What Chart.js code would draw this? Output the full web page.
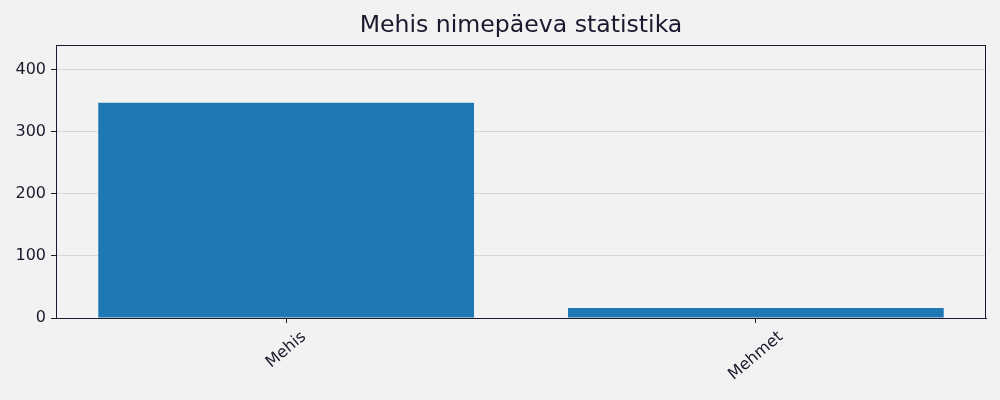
<!DOCTYPE html>
<html>
<head>
<meta charset="utf-8">
<script src="https://cdn.jsdelivr.net/npm/chart.js@4/dist/chart.umd.min.js"></script>
<style>
  html, body { margin: 0; padding: 0; background: #f2f2f2; }
  #wrap { width: 1000px; height: 400px; }
</style>
</head>
<body>
<div id="wrap"><canvas id="nameChart"></canvas></div>
<script>
const names = ["Mehis", "Mehmet"];
const counts = [347, 16];
const yTicks = [0, 100, 200, 300, 400];
const chartTitle = "Mehis nimepäeva statistika";

const textColor = "#1a1a2e";
const fontFamily = "'DejaVu Sans', sans-serif";

// frame, axes-centred title and centred rotated x labels (matplotlib style)
const framePlugin = {
  id: "frame",
  afterDraw(chart) {
    const { ctx, chartArea } = chart;
    const xScale = chart.scales.x;
    ctx.save();
    ctx.strokeStyle = textColor;
    ctx.lineWidth = 1;
    ctx.strokeRect(chartArea.left + 0.5, chartArea.top + 0.5,
      chartArea.right - chartArea.left - 1, chartArea.bottom - chartArea.top);

    ctx.fillStyle = textColor;
    ctx.font = "23.6px " + fontFamily;
    ctx.textAlign = "center";
    ctx.textBaseline = "alphabetic";
    ctx.fillText(chartTitle, (chartArea.left + chartArea.right) / 2, 32);

    ctx.font = "16px " + fontFamily;
    ctx.textBaseline = "middle";
    const ang = (40 * Math.PI) / 180;
    names.forEach((label, i) => {
      const x = xScale.getPixelForValue(i);
      const w = ctx.measureText(label).width;
      const h = 18;
      const boxH = w * Math.sin(ang) + h * Math.cos(ang);
      const top = chartArea.bottom + 10;
      ctx.save();
      ctx.translate(x, top + boxH / 2);
      ctx.rotate(-ang);
      ctx.fillText(label, 0, 0);
      ctx.restore();
    });
    ctx.restore();
  },
};

new Chart(document.getElementById("nameChart"), {
  type: "bar",
  data: {
    datasets: [
      {
        data: counts.map((c, i) => ({ x: i, y: c })),
        backgroundColor: "#1f77b4",
        barPercentage: 0.8,
        categoryPercentage: 1.0,
      },
    ],
  },
  options: {
    responsive: true,
    maintainAspectRatio: false,
    animation: false,
    layout: { padding: { left: 0, right: 14, top: 45, bottom: 0 } },
    plugins: {
      legend: { display: false },
      tooltip: { enabled: false },
      title: { display: false },
    },
    scales: {
      x: {
        type: "linear",
        min: -0.49,
        max: 1.49,
        offset: false,
        grid: {
          offset: false,
          color: "rgba(0,0,0,0)",
          tickColor: textColor,
          tickLength: 5,
        },
        border: { color: textColor, width: 1 },
        ticks: {
          display: false,
          stepSize: 1,
          includeBounds: false,
          callback: (v) => names[v],
        },
        afterFit(scale) {
          scale.height = 82;
        },
      },
      y: {
        min: 0,
        max: 440,
        grid: {
          color: "#d6d6d6",
          tickColor: textColor,
          tickLength: 5,
        },
        border: { color: textColor, width: 1 },
        ticks: {
          stepSize: 100,
          includeBounds: false,
          padding: 5,
          color: textColor,
          font: { family: fontFamily, size: 16 },
          callback: (v) => (yTicks.includes(v) ? v : null),
        },
        afterFit(scale) {
          scale.width = 56;
        },
      },
    },
  },
  plugins: [framePlugin],
});
</script>
</body>
</html>
